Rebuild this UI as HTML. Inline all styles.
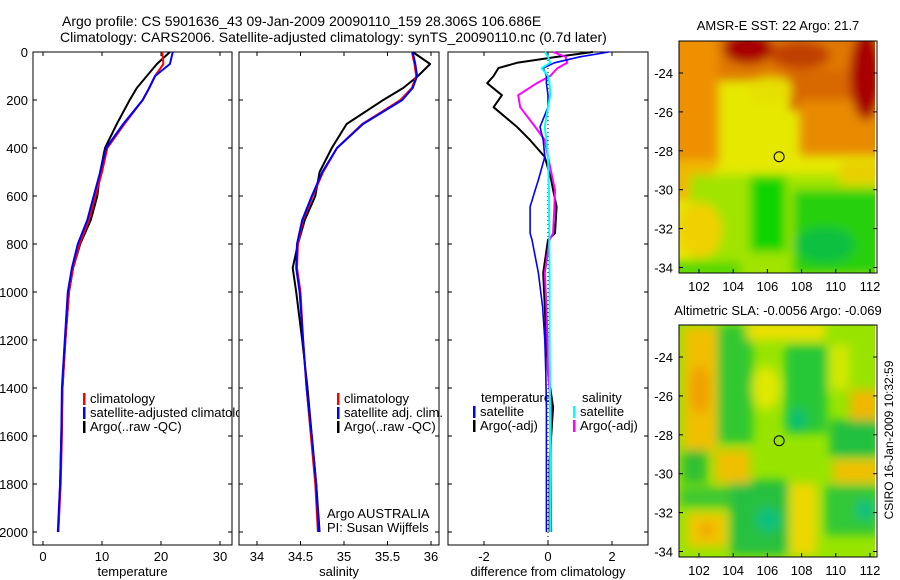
<!DOCTYPE html>
<html><head><meta charset="utf-8"><style>
body{margin:0;background:#fff;}
svg{display:block;font-family:"Liberation Sans",sans-serif;}
</style></head><body>
<svg id="chart" width="900" height="580" viewBox="0 0 900 580">
<defs>
<filter id="blur" x="-20%" y="-20%" width="140%" height="140%"><feGaussianBlur stdDeviation="5"/></filter>
<clipPath id="clipA"><rect x="679" y="41" width="198" height="232"/></clipPath>
<clipPath id="clipB"><rect x="679" y="325" width="198" height="232"/></clipPath>
</defs>
<text x="62" y="26" font-size="14">Argo profile: CS 5901636_43 09-Jan-2009 20090110_159 28.306S 106.686E</text>
<text x="60" y="42" font-size="14">Climatology: CARS2006. Satellite-adjusted climatology: synTS_20090110.nc (0.7d later)</text>

<g clip-path="url(#clipA)">
<rect x="679" y="41" width="198" height="232" fill="#e6e800"/>
<g filter="url(#blur)">
<rect x="670" y="30" width="220" height="50" fill="#e07800"/>
<rect x="790" y="70" width="100" height="40" fill="#d86800"/>
<rect x="800" y="100" width="90" height="55" fill="#e88a00"/>
<rect x="670" y="30" width="48" height="135" fill="#ee9000"/>
<rect x="670" y="160" width="45" height="40" fill="#f0b800"/>
<ellipse cx="770" cy="90" rx="22" ry="13" fill="#e6e000"/>
<ellipse cx="748" cy="48" rx="25" ry="16" fill="#a80000"/>
<ellipse cx="800" cy="55" rx="30" ry="14" fill="#c04000"/>
<ellipse cx="866" cy="75" rx="16" ry="45" fill="#a80000"/>
<rect x="690" y="175" width="200" height="110" fill="#a0e400"/>
<rect x="750" y="177" width="36" height="75" fill="#10d400"/>
<rect x="793" y="190" width="90" height="85" fill="#28d010"/>
<ellipse cx="825" cy="245" rx="30" ry="18" fill="#10c040"/>
<ellipse cx="700" cy="230" rx="22" ry="28" fill="#f0d000"/>
<rect x="670" y="262" width="70" height="15" fill="#50d800"/>
<rect x="840" y="160" width="40" height="25" fill="#e8d000"/>
</g>
<rect x="875" y="41" width="3" height="232" fill="#fff"/>
</g>
<rect x="679" y="41" width="198" height="232" fill="none" stroke="#000"/>
<text x="778" y="30" font-size="13" text-anchor="middle">AMSR-E SST: 22 Argo: 21.7</text>

<g clip-path="url(#clipB)">
<rect x="679" y="325" width="198" height="232" fill="#98e400"/>
<g filter="url(#blur)">
<rect x="683" y="327" width="34" height="125" fill="#f0c000"/>
<ellipse cx="700" cy="390" rx="10" ry="25" fill="#f0a000"/>
<rect x="717" y="325" width="36" height="118" fill="#30c830"/>
<rect x="747" y="322" width="78" height="18" fill="#ece000"/>
<ellipse cx="766" cy="388" rx="14" ry="22" fill="#e0e800"/>
<rect x="785" y="345" width="42" height="88" fill="#28c838"/>
<ellipse cx="797" cy="420" rx="10" ry="12" fill="#10c070"/>
<rect x="830" y="345" width="20" height="45" fill="#d0e800"/>
<rect x="850" y="390" width="30" height="38" fill="#f0b800"/>
<rect x="830" y="420" width="50" height="37" fill="#20c040"/>
<rect x="833" y="460" width="50" height="23" fill="#f0c000"/>
<rect x="825" y="485" width="55" height="50" fill="#30c838"/>
<ellipse cx="865" cy="510" rx="10" ry="10" fill="#10c080"/>
<rect x="790" y="483" width="27" height="72" fill="#ecd800"/>
<rect x="730" y="480" width="58" height="75" fill="#28c040"/>
<ellipse cx="768" cy="520" rx="12" ry="12" fill="#10c080"/>
<rect x="682" y="450" width="25" height="33" fill="#30c030"/>
<rect x="715" y="450" width="35" height="33" fill="#f0c000"/>
<rect x="680" y="487" width="50" height="20" fill="#40c830"/>
<rect x="687" y="513" width="40" height="34" fill="#f0c800"/>
<ellipse cx="707" cy="530" rx="8" ry="8" fill="#f0a800"/>
</g>
<rect x="875" y="325" width="3" height="232" fill="#fff"/>
</g>
<rect x="679" y="325" width="198" height="232" fill="none" stroke="#000"/>
<text x="778" y="315" font-size="13" text-anchor="middle">Altimetric SLA: -0.0056 Argo: -0.069</text>
<text transform="translate(893,440) rotate(-90)" font-size="12" text-anchor="middle">CSIRO 16-Jan-2009 10:32:59</text>
<g id="layer"></g>
</svg>
<script>
const depths = [0,50,100,150,200,300,400,500,600,700,800,900,1000,1200,1400,1600,1800,2000];
const tempSat = [22.0,21.5,19.0,18.0,16.9,13.6,10.7,9.7,8.6,7.5,5.9,4.9,4.2,3.7,3.2,3.1,2.9,2.5];
const tempClim = [20.2,20.4,19.0,18.0,16.9,13.8,10.9,10.0,8.9,7.8,6.2,5.1,4.4,3.8,3.3,3.2,3.0,2.6];
const tempArgo = [21.5,19.3,17.6,15.9,14.7,12.5,10.5,9.7,9.2,8.1,6.3,5.1,4.4,3.8,3.3,3.1,2.9,2.6];
const salSat = [35.79,35.82,35.84,35.79,35.67,35.22,34.92,34.75,34.63,34.52,34.46,34.45,34.49,34.53,34.57,34.63,34.68,34.71];
const salClim = [35.78,35.81,35.83,35.78,35.65,35.21,34.92,34.76,34.64,34.53,34.47,34.46,34.50,34.53,34.57,34.62,34.67,34.70];
const salArgo = [35.79,35.99,35.85,35.68,35.45,35.03,34.86,34.72,34.67,34.55,34.47,34.41,34.45,34.52,34.58,34.63,34.68,34.72];
const diffDepths = [0,20,45,67,100,130,180,230,312,367,437,533,575,645,755,783,921,1062,1200,1337,1480,1700,2000];
const dTempArgo = [1.4,0.3,-0.97,-1.55,-1.7,-1.9,-1.44,-1.7,-0.97,-0.56,-0.1,0.1,0.16,0.27,0.22,0.0,-0.15,-0.1,-0.06,0.0,0.16,0.05,0.05];
const dTempSat = [1.9,1.0,0.2,-0.15,-0.05,-0.05,0.0,0.0,-0.25,-0.15,-0.1,-0.3,-0.4,-0.56,-0.56,-0.5,-0.3,-0.17,-0.1,-0.07,-0.05,-0.05,-0.05];
const dSalArgo = [0.16,0.55,0.6,0.3,0.07,-0.35,-0.93,-0.87,-0.4,-0.1,0.0,0.15,0.22,0.2,0.16,0.05,-0.1,-0.05,-0.02,0.0,0.1,0.08,0.1];
const dSalSat = [-0.1,0.0,0.07,-0.2,0.0,0.05,0.07,0.0,-0.1,-0.05,0.0,0.02,0.03,0.03,0.04,0.04,0.05,0.05,0.05,0.06,0.06,0.07,0.07];
const depthTicks = [0,200,400,600,800,1000,1200,1400,1600,1800,2000];
const tempTicks = [0,10,20,30];
const salTicks = [34,34.5,35,35.5,36];
const diffTicks = [-2,0,2];
const lonTicks = [102,104,106,108,110,112];
const latTicks = [-24,-26,-28,-30,-32,-34];
const argoLon = 106.686, argoLat = -28.306;

const NS='http://www.w3.org/2000/svg';
const layer=document.getElementById('layer');
function mk(tag,attrs,parent){const e=document.createElementNS(NS,tag);for(const k in attrs)e.setAttribute(k,attrs[k]);(parent||layer).appendChild(e);return e;}
const yD = d => 52 + d*0.24;
const PT=52, PB=545;
const panels=[
 {x0:33,x1:232,sx:v=>43+5.9*v,ticks:tempTicks,label:'temperature',name:'temperature-panel'},
 {x0:239,x1:439,sx:v=>257+87*(v-34),ticks:salTicks,label:'salinity',name:'salinity-panel'},
 {x0:448,x1:648,sx:v=>548+32*v,ticks:diffTicks,label:'difference from climatology',name:'difference-panel'}
];
const groups=[];
panels.forEach((p,i)=>{
 const g=mk('g',{});
 
 
 groups.push(g);
 const bg=mk('rect',{x:p.x0,y:PT,width:p.x1-p.x0,height:PB-PT,fill:'#fff',stroke:'#000','stroke-width':1},g);
 
 
 depthTicks.forEach(d=>{
  const y=yD(d);
  mk('line',{x1:p.x0,x2:p.x0+4,y1:y,y2:y,stroke:'#000'},g);
  mk('line',{x1:p.x1-4,x2:p.x1,y1:y,y2:y,stroke:'#000'},g);
  if(i===0){const t=mk('text',{x:28,y:y+5,'font-size':13,'text-anchor':'end'},g);t.textContent=d;
   
   }
 });
 p.ticks.forEach(v=>{
  const x=p.sx(v);
  mk('line',{x1:x,x2:x,y1:PT,y2:PT+4,stroke:'#000'},g);
  mk('line',{x1:x,x2:x,y1:PB-4,y2:PB,stroke:'#000'},g);
  const t=mk('text',{x:x,y:561,'font-size':13,'text-anchor':'middle'},g);t.textContent=v;
  
  
 });
 const xl=mk('text',{x:(p.x0+p.x1)/2,y:576,'font-size':13,'text-anchor':'middle'},g);xl.textContent=p.label;
 
 
});
function line(g,xs,ds,sx,color,w,name){
 const pts=xs.map((v,i)=>sx(v).toFixed(1)+','+yD(ds[i]).toFixed(1)).join(' ');
 const e=mk('polyline',{points:pts,fill:'none',stroke:color,'stroke-width':w,'stroke-linejoin':'round'},g);
 
 
}
function legend(g,x,y,color,text,name){
 mk('rect',{x:x,y:y-10,width:2.5,height:12,fill:color},g);
 const t=mk('text',{x:x+7,y:y,'font-size':13},g);t.textContent=text;
 
 
}
let g=groups[0];
legend(g,83,403,'#f00','climatology','legend-climatology');
legend(g,83,417,'#00f','satellite-adjusted climatology','legend-satellite-adjusted');
legend(g,83,431,'#000','Argo(..raw -QC)','legend-argo');
line(g,tempArgo,depths,panels[0].sx,'#000',2,'temp-argo-line');
line(g,tempClim,depths,panels[0].sx,'#f00',2,'temp-climatology-line');
line(g,tempSat,depths,panels[0].sx,'#00f',2,'temp-satellite-line');
g=groups[1];
layer.appendChild(g);
legend(g,337,403,'#f00','climatology','legend-climatology');
legend(g,337,417,'#00f','satellite adj. clim.','legend-satellite-adj');
legend(g,337,431,'#000','Argo(..raw -QC)','legend-argo');
let t=mk('text',{x:327,y:518,'font-size':13},g);t.textContent='Argo AUSTRALIA';


t=mk('text',{x:327,y:532,'font-size':13},g);t.textContent='PI: Susan Wijffels';


line(g,salArgo,depths,panels[1].sx,'#000',2,'sal-argo-line');
line(g,salClim,depths,panels[1].sx,'#f00',2,'sal-climatology-line');
line(g,salSat,depths,panels[1].sx,'#00f',2,'sal-satellite-line');
g=groups[2];
layer.appendChild(g);
mk('line',{x1:548,x2:548,y1:PT,y2:PB,stroke:'#000','stroke-dasharray':'1,3'},g);
t=mk('text',{x:481,y:402,'font-size':13},g);t.textContent='temperature';


t=mk('text',{x:582,y:402,'font-size':13},g);t.textContent='salinity';


legend(g,473,416,'#00f','satellite','legend-temp-satellite');
legend(g,473,430,'#000','Argo(-adj)','legend-temp-argo');
legend(g,573,416,'#0ff','satellite','legend-sal-satellite');
legend(g,573,430,'#f0f','Argo(-adj)','legend-sal-argo');
line(g,dTempArgo,diffDepths,panels[2].sx,'#000',2,'diff-temp-argo-line');
line(g,dSalArgo,diffDepths,panels[2].sx,'#f0f',2,'diff-sal-argo-line');
line(g,dTempSat,diffDepths,panels[2].sx,'#00f',1.6,'diff-temp-satellite-line');
line(g,dSalSat,diffDepths,panels[2].sx,'#0ff',2,'diff-sal-satellite-line');
const maps=[{top:41,lat24:73,name:'sst'},{top:325,lat24:357,name:'sla'}];
maps.forEach(m=>{
 const lx=v=>699+(v-102)*17.1, ly=v=>m.lat24+(-24-v)*19.45;
 lonTicks.forEach(v=>{
  const x=lx(v);
  mk('line',{x1:x,x2:x,y1:m.top+232,y2:m.top+228,stroke:'#000'});
  const tt=mk('text',{x:x,y:m.top+250,'font-size':13,'text-anchor':'middle'});tt.textContent=v;
  
  
 });
 latTicks.forEach(v=>{
  const y=ly(v);
  mk('line',{x1:679,x2:683,y1:y,y2:y,stroke:'#000'});
  mk('line',{x1:873,x2:877,y1:y,y2:y,stroke:'#000'});
  const tt=mk('text',{x:673,y:y+5,'font-size':13,'text-anchor':'end'});tt.textContent=v;
  
  
 });
 const c=mk('circle',{cx:lx(argoLon),cy:ly(argoLat),r:5,fill:'none',stroke:'#000','stroke-width':1});
 
 
});
</script>
</body></html>
